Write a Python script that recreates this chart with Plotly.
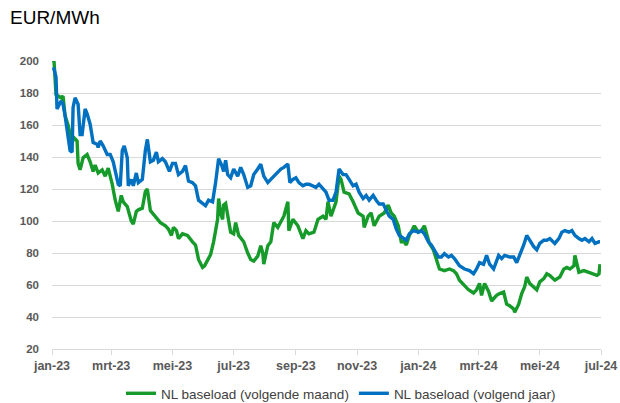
import plotly.graph_objects as go

# NL baseload (volgende maand) - front month
maand_dates = [
    "2023-01-02", "2023-01-03", "2023-01-05", "2023-01-10", "2023-01-12", "2023-01-14", "2023-01-17",
    "2023-01-21", "2023-01-23", "2023-01-26", "2023-01-27", "2023-01-29", "2023-02-01", "2023-02-05",
    "2023-02-08", "2023-02-11", "2023-02-13", "2023-02-16", "2023-02-20", "2023-02-23", "2023-02-26",
    "2023-03-02", "2023-03-05", "2023-03-08", "2023-03-11", "2023-03-13", "2023-03-17", "2023-03-21",
    "2023-03-23", "2023-03-26", "2023-03-28", "2023-04-01", "2023-04-04", "2023-04-06", "2023-04-09",
    "2023-04-14", "2023-04-19", "2023-04-24", "2023-04-27", "2023-04-30", "2023-05-02", "2023-05-05",
    "2023-05-07", "2023-05-11", "2023-05-16", "2023-05-21", "2023-05-24", "2023-05-27", "2023-05-31",
    "2023-06-02", "2023-06-05", "2023-06-08", "2023-06-11", "2023-06-13", "2023-06-15", "2023-06-16",
    "2023-06-18", "2023-06-20", "2023-06-21", "2023-06-23", "2023-06-25", "2023-06-28", "2023-07-01",
    "2023-07-03", "2023-07-06", "2023-07-11", "2023-07-15", "2023-07-18", "2023-07-21", "2023-07-25",
    "2023-07-28", "2023-07-30", "2023-07-31", "2023-08-04", "2023-08-07", "2023-08-10", "2023-08-14",
    "2023-08-17", "2023-08-20", "2023-08-24", "2023-08-25", "2023-08-29", "2023-09-03", "2023-09-08",
    "2023-09-11", "2023-09-14", "2023-09-19", "2023-09-23", "2023-09-28", "2023-10-01", "2023-10-03",
    "2023-10-06", "2023-10-11", "2023-10-14", "2023-10-16", "2023-10-19", "2023-10-24", "2023-10-28",
    "2023-11-02", "2023-11-07", "2023-11-08", "2023-11-12", "2023-11-15", "2023-11-18", "2023-11-23",
    "2023-11-28", "2023-12-02", "2023-12-05", "2023-12-08", "2023-12-12", "2023-12-15", "2023-12-18",
    "2023-12-20", "2023-12-23", "2023-12-28", "2024-01-01", "2024-01-04", "2024-01-07", "2024-01-09",
    "2024-01-12", "2024-01-16", "2024-01-19", "2024-01-22", "2024-01-27", "2024-02-01", "2024-02-05",
    "2024-02-08", "2024-02-11", "2024-02-15", "2024-02-20", "2024-02-25", "2024-02-28", "2024-03-02",
    "2024-03-04", "2024-03-07", "2024-03-11", "2024-03-14", "2024-03-19", "2024-03-22", "2024-03-26",
    "2024-03-29", "2024-04-01", "2024-04-05", "2024-04-06", "2024-04-10", "2024-04-13", "2024-04-16",
    "2024-04-18", "2024-04-21", "2024-04-25", "2024-04-28", "2024-05-01", "2024-05-05", "2024-05-08",
    "2024-05-11", "2024-05-16", "2024-05-21", "2024-05-25", "2024-05-28", "2024-05-31", "2024-06-04",
    "2024-06-05", "2024-06-09", "2024-06-14", "2024-06-19", "2024-06-24", "2024-06-27", "2024-06-29",
    "2024-06-30",
]
maand_values = [
    199, 200, 179, 177, 178, 166, 160,
    149, 152, 150, 136, 132, 139.5, 141.5,
    137, 131, 135, 130, 132, 128, 133,
    123, 113, 106, 116, 112, 109, 100,
    98, 106, 107, 108, 118.5, 120, 106.5,
    103, 99, 97, 95, 91, 96, 94,
    89, 92, 91, 87, 85, 76, 71,
    72, 76, 79, 87, 94, 101, 114,
    105, 101, 110, 111, 103, 93, 92,
    99, 91, 87, 80, 76, 75, 78,
    84.6, 80, 73, 84.6, 87, 99, 96,
    100, 103, 112, 94, 101, 97, 89,
    94, 92, 93, 101, 103, 101, 112,
    103, 112, 128, 126, 118, 117, 112,
    105, 103, 96, 103, 105, 97, 103,
    105, 110, 105, 103, 97, 87, 87,
    85, 91, 97, 93, 94, 97, 93,
    86, 82, 75, 70, 69, 70, 69,
    67, 63, 60, 57, 55, 57, 61,
    53.5, 61, 56, 50, 53.5, 54.6, 55.6,
    48, 47, 45, 43, 48, 54.6, 59,
    65, 61, 59, 57, 62, 64, 67,
    66, 63, 65, 70, 71, 70, 72,
    78.5, 68, 69, 68, 67, 66, 67,
    73,
]

# NL baseload (volgend jaar) - year ahead
jaar_dates = [
    "2023-01-02", "2023-01-03", "2023-01-05", "2023-01-06", "2023-01-10", "2023-01-12", "2023-01-14",
    "2023-01-16", "2023-01-19", "2023-01-21", "2023-01-22", "2023-01-24", "2023-01-27", "2023-01-29",
    "2023-01-31", "2023-02-03", "2023-02-05", "2023-02-08", "2023-02-10", "2023-02-11", "2023-02-15",
    "2023-02-16", "2023-02-18", "2023-02-21", "2023-02-25", "2023-02-28", "2023-03-03", "2023-03-07",
    "2023-03-08", "2023-03-10", "2023-03-12", "2023-03-14", "2023-03-17", "2023-03-18", "2023-03-21",
    "2023-03-23", "2023-03-26", "2023-03-28", "2023-04-01", "2023-04-04", "2023-04-06", "2023-04-09",
    "2023-04-12", "2023-04-15", "2023-04-17", "2023-04-21", "2023-04-24", "2023-04-28", "2023-05-01",
    "2023-05-04", "2023-05-07", "2023-05-11", "2023-05-14", "2023-05-17", "2023-05-21", "2023-05-24",
    "2023-05-27", "2023-05-31", "2023-06-03", "2023-06-06", "2023-06-10", "2023-06-13", "2023-06-16",
    "2023-06-19", "2023-06-21", "2023-06-23", "2023-06-25", "2023-06-28", "2023-07-01", "2023-07-05",
    "2023-07-08", "2023-07-11", "2023-07-15", "2023-07-18", "2023-07-21", "2023-07-25", "2023-07-28",
    "2023-07-31", "2023-08-04", "2023-08-07", "2023-08-10", "2023-08-14", "2023-08-17", "2023-08-20",
    "2023-08-24", "2023-08-26", "2023-08-29", "2023-09-01", "2023-09-04", "2023-09-08", "2023-09-11",
    "2023-09-14", "2023-09-18", "2023-09-21", "2023-09-24", "2023-09-28", "2023-10-01", "2023-10-04",
    "2023-10-08", "2023-10-11", "2023-10-14", "2023-10-18", "2023-10-21", "2023-10-24", "2023-10-28",
    "2023-10-31", "2023-11-03", "2023-11-07", "2023-11-10", "2023-11-13", "2023-11-17", "2023-11-20",
    "2023-11-23", "2023-11-27", "2023-11-30", "2023-12-03", "2023-12-07", "2023-12-10", "2023-12-13",
    "2023-12-17", "2023-12-20", "2023-12-23", "2023-12-27", "2024-01-01", "2024-01-04", "2024-01-07",
    "2024-01-11", "2024-01-14", "2024-01-17", "2024-01-21", "2024-01-24", "2024-01-27", "2024-01-31",
    "2024-02-03", "2024-02-06", "2024-02-11", "2024-02-16", "2024-02-21", "2024-02-25", "2024-02-28",
    "2024-03-02", "2024-03-06", "2024-03-09", "2024-03-12", "2024-03-16", "2024-03-19", "2024-03-21",
    "2024-03-24", "2024-03-27", "2024-04-01", "2024-04-05", "2024-04-08", "2024-04-11", "2024-04-15",
    "2024-04-18", "2024-04-21", "2024-04-25", "2024-04-28", "2024-05-01", "2024-05-05", "2024-05-08",
    "2024-05-11", "2024-05-16", "2024-05-20", "2024-05-23", "2024-05-26", "2024-05-30", "2024-06-02",
    "2024-06-05", "2024-06-09", "2024-06-12", "2024-06-15", "2024-06-19", "2024-06-22", "2024-06-25",
    "2024-06-29", "2024-06-30",
]
jaar_values = [
    196, 195, 190, 170, 175, 173, 166,
    156, 144, 143, 171, 177, 173, 154,
    154, 170, 167, 160.5, 154, 149, 148,
    146, 150, 147, 141.6, 141.6, 137, 127,
    123, 122, 144, 147, 139.5, 122, 126,
    122, 130, 124, 126, 144, 151, 137,
    138, 143, 137, 139, 137, 131, 136,
    136, 129, 131, 134.6, 125, 124, 122,
    113, 111, 109.6, 113, 112, 124, 139,
    135, 131, 138, 129, 127, 132.5, 128,
    133.5, 129, 121, 122, 129, 132.5, 135.6,
    128, 124, 126, 128, 131, 132.5, 133.5,
    135.6, 124, 126, 127, 124, 122, 123,
    123, 122, 121, 123, 120, 118, 113,
    113, 118, 132.5, 129, 129, 126, 122,
    123, 118, 114, 116, 113, 116, 113,
    110.6, 110.6, 106.5, 103, 101, 95, 91,
    89, 88, 92, 94, 93, 94, 92,
    87, 85, 82, 77.5, 77.5, 79.6, 77.5,
    78.5, 76.5, 72, 70, 69, 67, 70,
    74, 73, 78.5, 73, 70, 75, 78.5,
    76.5, 78.5, 77.5, 77.5, 74, 78.5, 85,
    91, 88, 84, 82, 86, 88, 88,
    89, 86, 89, 93, 94, 93, 94,
    91, 89, 88, 89, 87, 89, 86,
    87, 87,
]

tick_vals = ["2023-01-01", "2023-03-01", "2023-05-01", "2023-07-01", "2023-09-01",
             "2023-11-01", "2024-01-01", "2024-03-01", "2024-05-01", "2024-07-01"]
tick_text = ["jan-23", "mrt-23", "mei-23", "jul-23", "sep-23",
             "nov-23", "jan-24", "mrt-24", "mei-24", "jul-24"]
y_ticks = [20, 40, 60, 80, 100, 120, 140, 160, 180, 200]

fig = go.Figure()
fig.add_trace(go.Scatter(x=maand_dates, y=maand_values, mode="lines",
                         name="NL baseload (volgende maand)",
                         line=dict(color="#169B2A", width=3.4)))
fig.add_trace(go.Scatter(x=jaar_dates, y=jaar_values, mode="lines",
                         name="NL baseload (volgend jaar)",
                         line=dict(color="#0070C0", width=3.4)))

fig.update_layout(
    width=620, height=403,
    margin=dict(l=52, r=19, t=61, b=54, autoexpand=False),
    paper_bgcolor="white", plot_bgcolor="white",
    showlegend=True,
    legend=dict(orientation="h", x=0.55, xanchor="center", xref="container",
                y=1 - 378 / 403, yanchor="top", yref="container",
                font=dict(family="Liberation Sans, Arial", size=13.5, color="#404040"),
                itemwidth=30, traceorder="normal", bgcolor="rgba(0,0,0,0)"),
    xaxis=dict(type="date", range=["2023-01-01", "2024-07-01"],
               tickmode="array", tickvals=tick_vals, ticktext=tick_text,
               showgrid=False, showline=True, linecolor="#d9d9d9", linewidth=1,
               ticks="outside", ticklen=5, tickcolor="#d9d9d9",
               tickfont=dict(family="Liberation Sans, Arial", size=12.5, color="#595959", weight="bold"),
               zeroline=False),
    yaxis=dict(range=[20, 200], tickmode="array", tickvals=y_ticks,
               showgrid=True, gridcolor="#d9d9d9", gridwidth=1,
               showline=False, zeroline=False, ticks="", ticklabelstandoff=12,
               tickfont=dict(family="Liberation Sans, Arial", size=11.5, color="#595959", weight="bold")),
)
fig.add_annotation(text="EUR/MWh", xref="paper", yref="paper",
                   x=-44 / 549, y=1 + (61 - 18) / 288, xanchor="left", yanchor="middle",
                   showarrow=False,
                   font=dict(family="Liberation Sans, Arial", size=19, color="#000000"))

fig.write_html("out.html", config={"displayModeBar": False},
               post_script="document.body.style.margin='0';")
